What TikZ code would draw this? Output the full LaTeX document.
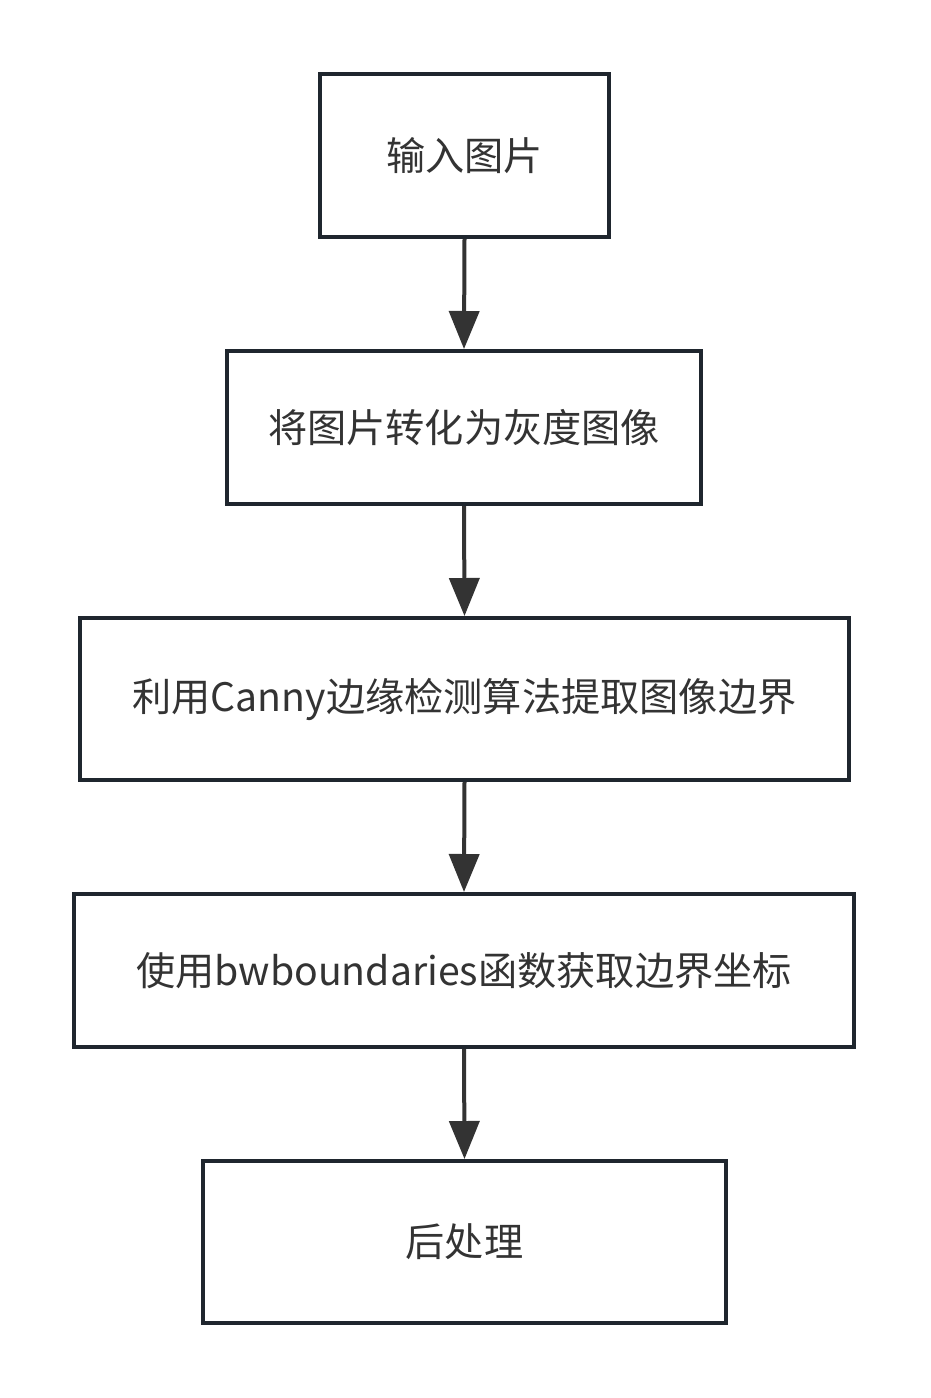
\documentclass[tikz,border=0pt]{standalone}
\usepackage{fontspec}
\newfontfamily\cjk{Noto Sans CJK SC}
\usetikzlibrary{arrows.meta}
\definecolor{boxline}{HTML}{1F262E}
\definecolor{arrowc}{HTML}{333333}
\definecolor{txt}{HTML}{333333}
\begin{document}
\begin{tikzpicture}[x=1pt,y=-1pt,
  stepbox/.style={draw=boxline,line width=4pt,fill=white,inner sep=0pt,
    font=\cjk\fontsize{39.2}{46}\selectfont,text=txt},
  conn/.style={draw=arrowc,line width=4pt,-{Triangle[length=38pt,width=30pt]}}]
\useasboundingbox (0,0) rectangle (930,1398);
\node[stepbox,minimum width=289pt,minimum height=163pt] (n1) at (464.5,155.5) {输入图片};
\node[stepbox,minimum width=474pt,minimum height=153pt] (n2) at (464,427.5) {将图片转化为灰度图像};
\node[stepbox,minimum width=769pt,minimum height=162pt] (n3) at (464.5,699) {利用Canny边缘检测算法提取图像边界};
\node[stepbox,minimum width=780pt,minimum height=153pt] (n4) at (464,970.5) {使用bwboundaries函数获取边界坐标};
\node[stepbox,minimum width=523pt,minimum height=162pt] (n5) at (464.5,1242) {后处理};
\draw[conn] (n1.south) -- (n2.north);
\draw[conn] (n2.south) -- (n3.north);
\draw[conn] (n3.south) -- (n4.north);
\draw[conn] (n4.south) -- (n5.north);
\end{tikzpicture}
\end{document}
